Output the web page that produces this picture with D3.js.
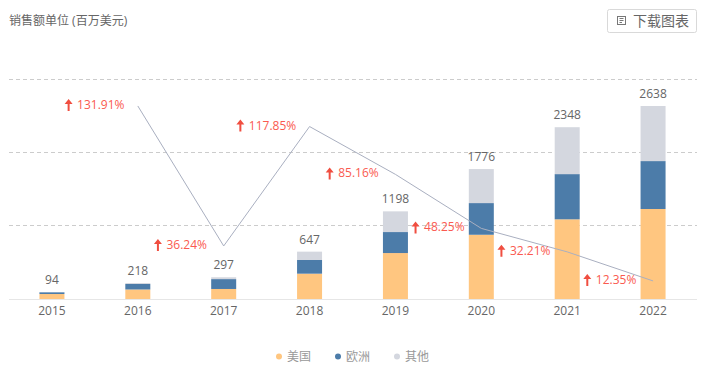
<!DOCTYPE html>
<html><head><meta charset="utf-8">
<script src="https://cdn.jsdelivr.net/npm/d3@7"></script>
<style>html,body{margin:0;padding:0;background:#fff}svg{display:block}text{font-family:"Open Sans","Noto Sans CJK SC","Noto Sans",sans-serif}</style>
</head><body><svg id="c" width="712" height="367"></svg>
<script>
const years=["2015","2016","2017","2018","2019","2020","2021","2022"];
const usa=[68,130,137,346,628,878,1089,1230];
const europe=[24,75,135,187,287,433,618,655];
const other=[2,13,25,114,283,465,641,753];
const totals=[94,218,297,647,1198,1776,2348,2638];
const growthYears=["2016","2017","2018","2019","2020","2021","2022"];
const growth=[131.91,36.24,117.85,85.16,48.25,32.21,12.35];
const seriesNames=["美国","欧洲","其他"];
const seriesColors=["#FFC680","#4C7CA9","#D4D7DF"];
const gridTicks=[0,1000,2000,3000];

const svg=d3.select("#c");
const x=d3.scaleBand().domain(years).range([9,696]);
const y=d3.scaleLinear().domain([0,3000]).range([299,79.5]);
const y2=d3.scaleLinear().domain([0,150]).range([299,79.5]);
const cx=d=>x(d)+x.bandwidth()/2;

// title
svg.append("text").attr("x",9).attr("y",25).attr("font-size",12).attr("fill","#666").text("销售额单位 (百万美元)");

// button
const btn=svg.append("g");
btn.append("rect").attr("x",607.5).attr("y",9.5).attr("width",89).attr("height",23).attr("rx",2).attr("fill","#fff").attr("stroke","#d9d9d9");
btn.append("rect").attr("x",617.5).attr("y",16.5).attr("width",8).attr("height",8).attr("fill","none").attr("stroke","#777");
btn.append("path").attr("d","M619.5 18.5h4M619.5 20.5h4M619.5 22.5h2.5").attr("stroke","#777").attr("fill","none");
btn.append("text").attr("x",633).attr("y",25.5).attr("font-size",14).attr("fill","#666").text("下载图表");

// grid
svg.append("g").selectAll("line").data(gridTicks.filter(d=>d>0)).join("line")
  .attr("x1",9).attr("x2",697).attr("y1",d=>Math.floor(y(d))+.5).attr("y2",d=>Math.floor(y(d))+.5)
  .attr("stroke","#ccc").attr("stroke-dasharray","4 3");
svg.append("line").attr("x1",9).attr("x2",697).attr("y1",299.5).attr("y2",299.5).attr("stroke","#e6e6e6");

// stacked bars
const rows=years.map((yr,i)=>({year:yr,a:usa[i],b:europe[i],c:other[i]}));
const stack=d3.stack().keys(["a","b","c"])(rows);
const bw=25;
svg.append("g").selectAll("g").data(stack).join("g").attr("fill",(d,i)=>seriesColors[i])
  .selectAll("rect").data(d=>d).join("rect")
  .attr("x",d=>cx(d.data.year)-bw/2).attr("width",bw)
  .attr("y",d=>y(d[1])).attr("height",d=>y(d[0])-y(d[1]));

// totals
svg.append("g").selectAll("text").data(years).join("text")
  .attr("x",cx).attr("y",(d,i)=>y(totals[i])-8).attr("text-anchor","middle")
  .attr("font-size",12).attr("fill","#666").text((d,i)=>totals[i]);

// x labels
svg.append("g").selectAll("text").data(years).join("text")
  .attr("x",cx).attr("y",315).attr("text-anchor","middle")
  .attr("font-size",12).attr("fill","#666").text(d=>d);

// growth line
svg.append("path").datum(growth).attr("fill","none").attr("stroke","#A9AFC0").attr("stroke-width",1)
  .attr("d",d3.line().x((d,i)=>cx(growthYears[i])).y(d=>y2(d)));

// growth labels
const gl=svg.append("g").selectAll("g").data(growth).join("g");
gl.each(function(d,i){
  const g=d3.select(this), px=cx(growthYears[i]), py=y2(d)-1;
  const t=g.append("text").attr("y",py+4).attr("font-size",12).attr("fill","#FA5A50").text(d.toFixed(2)+"%");
  const tw=t.node().getComputedTextLength();
  const left=px-43-(tw+12)/2;
  t.attr("x",left+12);
  const ax=left+3.5;
  g.append("path").attr("fill","#F04E40")
   .attr("d",`M${ax} ${py-6}L${ax+4} ${py-1}H${ax+1}V${py+6}H${ax-1}V${py-1}H${ax-4}Z`);
});

// legend
const lx=[279,338,397];
const lg=svg.append("g").selectAll("g").data(seriesNames).join("g");
lg.append("circle").attr("cx",(d,i)=>lx[i]).attr("cy",356.5).attr("r",3).attr("fill",(d,i)=>seriesColors[i]);
lg.append("text").attr("x",(d,i)=>lx[i]+8).attr("y",360.5).attr("font-size",12).attr("fill","#999").text(d=>d);
</script></body></html>
